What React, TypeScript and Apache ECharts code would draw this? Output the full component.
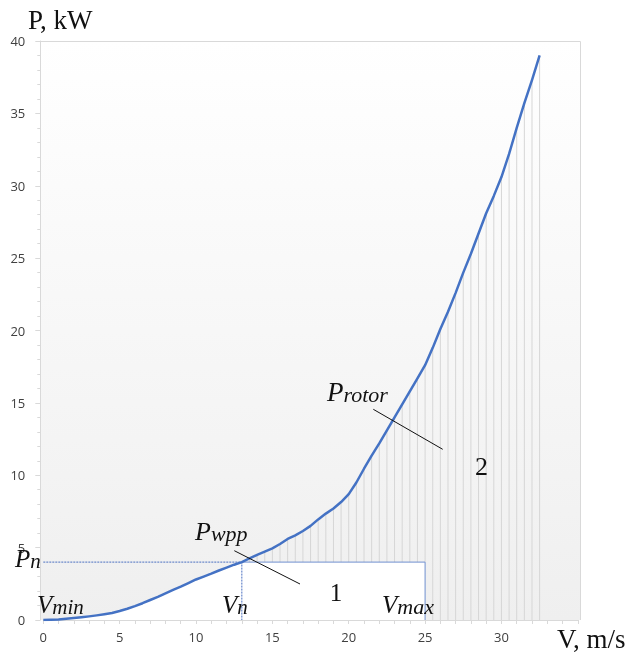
import React, { useEffect, useRef } from "react";
import * as echarts from "echarts";

// Wind speed, m/s
const windSpeed = [
  0, 0.5, 1, 1.5, 2, 2.5, 3, 3.5, 4, 4.5, 5, 5.5, 6, 6.5, 7, 7.5, 8, 8.5, 9, 9.5,
  10, 10.5, 11, 11.5, 12, 12.5, 13, 13.5, 14, 14.5, 15, 15.5, 16, 16.5, 17, 17.5,
  18, 18.5, 19, 19.5, 20, 20.5, 21, 21.5, 22, 22.5, 23, 23.5, 24, 24.5, 25, 25.5,
  26, 26.5, 27, 27.5, 28, 28.5, 29, 29.5, 30, 30.5, 31, 31.5, 32, 32.5,
];
// Rotor power, kW
const rotorPower = [
  0, 0.02, 0.04, 0.08, 0.13, 0.19, 0.25, 0.32, 0.4, 0.48, 0.62, 0.78, 0.96, 1.16,
  1.38, 1.6, 1.84, 2.08, 2.3, 2.55, 2.8, 3.0, 3.2, 3.42, 3.62, 3.82, 4.0, 4.25,
  4.5, 4.72, 4.95, 5.25, 5.6, 5.85, 6.15, 6.5, 6.95, 7.35, 7.7, 8.15, 8.7, 9.5,
  10.45, 11.35, 12.2, 13.1, 14.0, 14.9, 15.8, 16.7, 17.6, 18.8, 20.1, 21.3, 22.6,
  24.0, 25.3, 26.7, 28.1, 29.3, 30.6, 32.2, 34.0, 35.7, 37.3, 39.0,
];
const ratedPower = 4; // Pn
const ratedSpeed = 13; // Vn
const cutOutSpeed = 25; // Vmax

const xTickLabels = [0, 5, 10, 15, 20, 25, 30];
const yTickLabels = [0, 5, 10, 15, 20, 25, 30, 35, 40];

const SERIF = '"Liberation Serif", "Times New Roman", serif';

export default function App() {
  const ref = useRef<HTMLDivElement>(null);

  useEffect(() => {
    if (!ref.current) return;
    const chart = echarts.init(ref.current, null, { renderer: "svg" });

    const curve = windSpeed.map((v, i) => [v, rotorPower[i]]);
    const zone1: number[][] = [];
    windSpeed.forEach((v, i) => {
      if (v <= ratedSpeed) zone1.push([v, Math.min(rotorPower[i], ratedPower)]);
    });
    zone1.push([cutOutSpeed, ratedPower]);
    const hatch: number[][] = [];
    windSpeed.forEach((v, i) => {
      if (v > ratedSpeed) hatch.push([v, rotorPower[i], v <= cutOutSpeed ? ratedPower : 0]);
    });

    const txt = (
      text: string,
      x: number,
      baseline: number,
      size: number,
      italic: boolean,
      align: string = "left"
    ) => ({
      type: "text",
      z: 100,
      style: {
        text,
        x,
        y: baseline - 0.34 * size,
        fill: "#111",
        font: `${italic ? "italic " : ""}${size}px ${SERIF}`,
        textAlign: align,
        verticalAlign: "middle",
      },
    });

    // big letter + smaller italic suffix, one text element, baselines aligned
    const sub = (
      big: string,
      small: string,
      x: number,
      baseline: number,
      bigSize: number,
      smallSize: number,
      lhRatio: number = 0.75
    ) => {
      const lb = Math.round(bigSize * lhRatio);
      const ls = lb - 0.68 * (bigSize - smallSize);
      return {
        type: "text",
        z: 100,
        style: {
          text: `{a|${big}}{b|${small}}`,
          x,
          y: baseline - 0.34 * bigSize + lb / 2,
          textAlign: "left",
          verticalAlign: "bottom",
          rich: {
            a: {
              fontFamily: SERIF,
              fontStyle: "italic",
              fontSize: bigSize,
              lineHeight: lb,
              fill: "#111",
              color: "#111",
              verticalAlign: "bottom",
            },
            b: {
              fontFamily: SERIF,
              fontStyle: "italic",
              fontSize: smallSize,
              lineHeight: ls,
              fill: "#111",
              color: "#111",
              verticalAlign: "bottom",
            },
          },
        },
      };
    };

    const option: any = {
      animation: false,
      grid: { left: 43.3, right: 56.2, top: 41, bottom: 33, show: false },
      xAxis: {
        type: "value",
        min: 0,
        max: 35,
        interval: 5,
        axisLine: { show: true, onZero: false, lineStyle: { color: "#d9d9d9", width: 1 } },
        axisTick: { show: true, length: 4, lineStyle: { color: "#d9d9d9" } },
        minorTick: { show: true, splitNumber: 5, length: 4, lineStyle: { color: "#d9d9d9" } },
        splitLine: { show: false },
        axisLabel: {
          margin: 10,
          color: "#404040",
          fontFamily: '"Open Sans", sans-serif',
          fontSize: 13,
          formatter: (v: number) => (xTickLabels.includes(v) ? String(v) : ""),
        },
      },
      yAxis: {
        type: "value",
        min: 0,
        max: 40,
        interval: 5,
        offset: 3,
        axisLine: { show: true, onZero: false, lineStyle: { color: "#d9d9d9", width: 1 } },
        axisTick: { show: true, length: 5, lineStyle: { color: "#d9d9d9" } },
        minorTick: { show: true, splitNumber: 5, length: 3, lineStyle: { color: "#d9d9d9" } },
        splitLine: { show: false },
        axisLabel: {
          margin: 15,
          color: "#404040",
          fontFamily: '"Open Sans", sans-serif',
          fontSize: 13,
          lineHeight: 12,
          formatter: (v: number) => (yTickLabels.includes(v) ? String(v) : ""),
        },
      },
      series: [
        {
          type: "line",
          name: "zone1",
          data: zone1,
          symbol: "none",
          lineStyle: { width: 0 },
          areaStyle: { color: "#ffffff", opacity: 1 },
          z: 1,
        },
        {
          type: "custom",
          name: "hatch",
          data: hatch,
          z: 2,
          renderItem: (params: any, api: any) => {
            const x = api.value(0);
            const top = api.coord([x, api.value(1)]);
            const bot = api.coord([x, api.value(2)]);
            return {
              type: "line",
              shape: { x1: top[0], y1: top[1], x2: bot[0], y2: bot[1] },
              style: { stroke: "#d6d6d6", lineWidth: 1 },
            };
          },
        },
        {
          type: "line",
          name: "bounds",
          data: [
            [ratedSpeed, ratedPower],
            [cutOutSpeed, ratedPower],
            [cutOutSpeed, 0],
          ],
          symbol: "none",
          lineStyle: { color: "#6f8fcf", width: 1 },
          z: 3,
        },
        {
          type: "line",
          name: "rated",
          data: [
            [0, ratedPower],
            [ratedSpeed, ratedPower],
            [ratedSpeed, 0],
          ],
          symbol: "none",
          lineStyle: { color: "#4a6fc0", width: 1, type: [2, 1] },
          z: 3,
        },
        {
          type: "line",
          name: "Protor",
          data: curve,
          symbol: "none",
          smooth: false,
          lineStyle: { color: "#4472c4", width: 2.5, join: "round" },
          z: 4,
        },
      ],
      graphic: {
        elements: [
          {
            type: "rect",
            z: -1,
            shape: { x: 40, y: 41, width: 540.7, height: 579 },
            style: {
              fill: new echarts.graphic.LinearGradient(0, 0, 0, 1, [
                { offset: 0, color: "#ffffff" },
                { offset: 1, color: "#efefef" },
              ]),
            },
          },
          {
            type: "polyline",
            z: -1,
            shape: { points: [[40, 41.5], [580.5, 41.5], [580.5, 620]] },
            style: { stroke: "#d9d9d9", lineWidth: 1, fill: null },
          },
          txt("P, kW", 28, 29, 27, false),
          txt("V, m/s", 557, 648, 27, false),
          sub("P", "n", 15, 572, 25, 21, 0.6),
          sub("V", "min", 37, 616, 25, 21),
          sub("V", "n", 222, 616, 25, 21),
          sub("V", "max", 382, 616, 25, 22),
          sub("P", "wpp", 195, 543, 26, 22),
          sub("P", "rotor", 327, 405, 27, 22),
          txt("1", 336, 601, 25, false, "center"),
          txt("2", 481.5, 475, 26, false, "center"),
          {
            type: "line",
            z: 100,
            shape: { x1: 234.3, y1: 550.7, x2: 300, y2: 584 },
            style: { stroke: "#111", lineWidth: 1 },
          },
          {
            type: "line",
            z: 100,
            shape: { x1: 373.3, y1: 409.3, x2: 442.7, y2: 449.3 },
            style: { stroke: "#111", lineWidth: 1 },
          },
        ],
      },
    };

    chart.setOption(option);
    return () => chart.dispose();
  }, []);

  return (
    <div
      ref={ref}
      style={{ position: "fixed", left: 0, top: 0, width: 634, height: 653 }}
    />
  );
}
